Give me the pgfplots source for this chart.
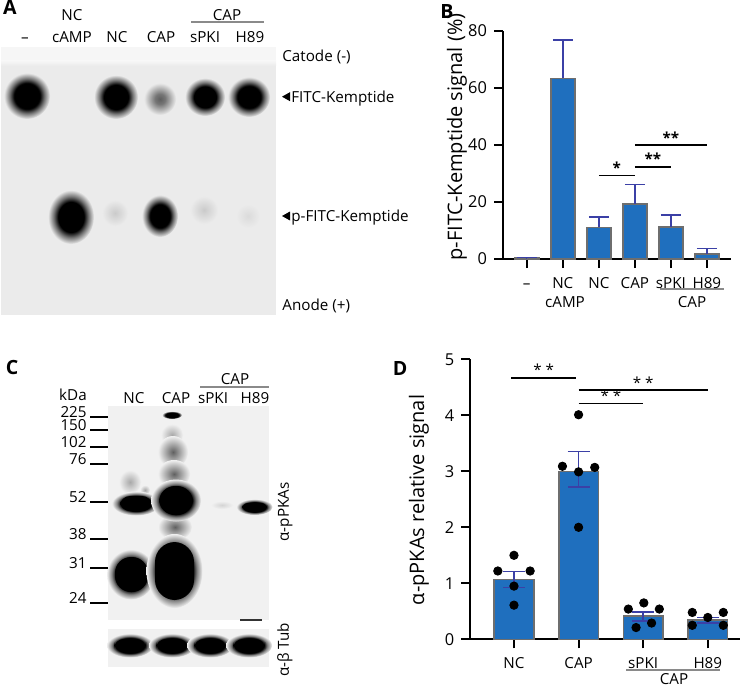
\documentclass[border=0pt]{standalone}
\usepackage{fontspec}
\setmainfont{Open Sans}
\setsansfont{Open Sans}
\usepackage{pgfplots}
\pgfplotsset{compat=1.18}
\definecolor{barblue}{HTML}{1F6FBE}
\definecolor{bargray}{HTML}{6E6E6E}
\definecolor{errblue}{HTML}{3B40A6}
\definecolor{gelA}{HTML}{EBEBEB}
\definecolor{blotbg}{HTML}{F1F1F1}
\definecolor{linegray}{HTML}{8A8A8A}
\pgfdeclareradialshading{blkA}{\pgfpoint{0bp}{0bp}}{color(0bp)=(black); color(14bp)=(black); color(19bp)=(black!50!gelA); color(25bp)=(gelA); color(50bp)=(gelA)}
\pgfdeclareradialshading{midA}{\pgfpoint{0bp}{0bp}}{color(0bp)=(black!60!gelA); color(8bp)=(black!50!gelA); color(25bp)=(gelA); color(50bp)=(gelA)}
\pgfdeclareradialshading{faintA}{\pgfpoint{0bp}{0bp}}{color(0bp)=(black!14!gelA); color(25bp)=(gelA); color(50bp)=(gelA)}
\pgfdeclareradialshading{vfaintA}{\pgfpoint{0bp}{0bp}}{color(0bp)=(black!7!gelA); color(25bp)=(gelA); color(50bp)=(gelA)}
\pgfdeclareradialshading{blkT}{\pgfpoint{0bp}{0bp}}{color(0bp)=(black); color(17bp)=(black); color(21bp)=(black!50!blotbg); color(25bp)=(blotbg); color(50bp)=(blotbg)}
\pgfdeclareradialshading{haloC}{\pgfpoint{0bp}{0bp}}{color(0bp)=(black); color(16bp)=(black); color(20bp)=(black!45!blotbg); color(25bp)=(blotbg); color(50bp)=(blotbg)}
\pgfdeclareradialshading{grayC}{\pgfpoint{0bp}{0bp}}{color(0bp)=(black!60!blotbg); color(25bp)=(blotbg); color(50bp)=(blotbg)}
\pgfdeclareradialshading{lgrayC}{\pgfpoint{0bp}{0bp}}{color(0bp)=(black!30!blotbg); color(25bp)=(blotbg); color(50bp)=(blotbg)}
\pgfdeclareradialshading{vfaintC}{\pgfpoint{0bp}{0bp}}{color(0bp)=(black!12!blotbg); color(25bp)=(blotbg); color(50bp)=(blotbg)}
\newcommand\labf{\fontsize{7.6}{9}\selectfont}
\newcommand\biglabf{\fontsize{10}{11}\selectfont}
\newcommand\panelf{\fontsize{9.8}{12}\selectfont\bfseries}
\tikzset{lab/.style={font=\labf,text height=1.5ex,text depth=0.4ex},biglab/.style={font=\biglabf},panel/.style={font=\panelf}}

\pgfplotstableread{
x y e
0 0.3 0.15
1 63.4 13.5
2 11.1 3.7
3 19.4 6.7
4 11.3 4.2
5 1.7 2.0
}\tabB

\pgfplotstableread{
x y ep em
0 1.07 0.14 0.15
1 3.00 0.35 0.28
2 0.42 0.07 0.09
3 0.34 0.05 0.05
}\tabD

\pgfplotstableread{
x y
0 1.50
-0.25 1.22
0.25 1.22
0 0.95
0 0.61
1 4.01
0.75 3.09
1.25 3.07
1 2.99
1 2.00
1.77 0.54
2.01 0.65
2.25 0.54
1.89 0.21
2.13 0.29
2.76 0.48
3.00 0.39
3.24 0.48
2.76 0.25
3.24 0.25
}\ptsD

\begin{document}
\begin{tikzpicture}
\begin{scope}[shift={(0pt,343.5pt)},x=0.5pt,y=-0.5pt]
\useasboundingbox (0,0) rectangle (754,687);
% ---------- Panel A gel ----------
\fill[gelA] (1,47) rectangle (276,315);
\fill[gelA!45!white] (1,47) rectangle (276,61);
\shade[top color=gelA!45!white,bottom color=gelA] (1,61) rectangle (276,66);
\shade[shading=blkA] (27,96) ellipse (23 and 23);
\shade[shading=blkA] (116,97) ellipse (22 and 22);
\shade[shading=midA] (160,99) ellipse (16 and 16);
\shade[shading=blkA] (205,97) ellipse (20 and 19);
\shade[shading=blkA] (249,97) ellipse (21 and 20);
\shade[shading=blkA] (71,217) ellipse (23 and 27);
\shade[shading=faintA] (115,213) ellipse (13 and 13);
\shade[shading=blkA] (160,216) ellipse (18 and 21);
\shade[shading=faintA] (204,210) ellipse (14 and 14);
\shade[shading=vfaintA] (248,216) ellipse (12 and 12);
\node[panel] at (10,7) {A};
\node[lab] at (72,15) {NC};
\node[lab] at (227,15) {CAP};
\draw[linegray,line width=0.6pt] (191,22) -- (264,22);
\foreach \x/\t in {25/--,72/cAMP,117/NC,161/CAP,205/sPKI,250/H89} \node[lab] at (\x,37) {\t};
\node[lab,anchor=west,inner sep=0pt] at (282,56) {Catode (-)};
\fill (282,96.7) -- (290,92.2) -- (290,101.2) -- cycle;
\node[lab,anchor=west,inner sep=0pt] at (291,96.7) {FITC-Kemptide};
\fill (282,216) -- (290,211.5) -- (290,220.5) -- cycle;
\node[lab,anchor=west,inner sep=0pt] at (291,216) {p-FITC-Kemptide};
\node[lab,anchor=west,inner sep=0pt] at (282,305) {Anode (+)};
% ---------- Panel C blot ----------
\fill[blotbg] (108,406) rectangle (269,620);
\fill[blotbg] (108,629) rectangle (269,667);
% NC lane
\shade[shading=lgrayC] (130,482) ellipse (11 and 12);
\shade[shading=lgrayC] (145,490) ellipse (5 and 5);
\shade[shading=haloC] (136,503.5) ellipse (24 and 12);
\fill[black,rounded corners=5] (120,496) rectangle (152,511);
\shade[shading=haloC] (131,574.5) ellipse (24 and 25);
\fill[black,rounded corners=8] (115,557) rectangle (148,592);
% CAP lane
\shade[shading=blkT] (172,415) ellipse (10 and 4);
\shade[shading=lgrayC] (172,435) ellipse (11 and 11);
\shade[shading=grayC] (173,452) ellipse (15 and 16);
\shade[shading=grayC] (174,474) ellipse (16 and 14);
\shade[shading=grayC] (175,527) ellipse (17 and 13);
\shade[shading=haloC] (176,500.5) ellipse (25 and 21);
\fill[black,rounded corners=8] (159,486) rectangle (193,515);
\shade[shading=haloC] (174.5,571) ellipse (28 and 37);
\fill[black,rounded corners=10] (155,542) rectangle (194,600);
% sPKI, H89
\shade[shading=vfaintC] (222,505) ellipse (11 and 4);
\shade[shading=haloC] (254.5,507) ellipse (18 and 8);
\fill[black,rounded corners=3] (242,503) rectangle (267,511);
\draw[black!80,line width=1pt] (240,620) -- (262,620);
\foreach \x in {130,172,210,249} {\shade[shading=haloC] (\x,645.5) ellipse (23 and 12);
  \fill[black,rounded corners=5] (\x-16,639) rectangle (\x+16,652);}
\node[panel] at (12,367) {C};
\node[lab] at (73,395) {kDa};
\foreach \y/\t in {417/225,430/150,447/102,464/76,502/52,539/38,568/31,603/24} {
  \node[lab,anchor=east,inner sep=0pt] at (87,\y-5) {\t};
  \draw[line width=1.1pt] (90,\y) -- (108,\y);
}
\foreach \x/\t in {134/NC,176/CAP,213/sPKI,255/H89} \node[lab] at (\x,398) {\t};
\node[lab] at (235,379) {CAP};
\draw[linegray,line width=0.6pt] (200,387) -- (269,387);
\node[lab,rotate=90] at (283,512) {α-pPKAs};
\node[lab,rotate=90] at (283,650) {α-β Tub};
% ---------- Panel B/D texts ----------
\node[panel] at (447,12) {B};
\node[biglab,rotate=90] at (457,137) {p-FITC-Kemptide signal (\%)};
\node[lab] at (565,302) {cAMP};
\node[lab] at (692,302) {CAP};
\draw[linegray,line width=0.6pt] (660,289) -- (724,289);
\node[panel] at (400,368) {D};
\node[biglab,rotate=90] at (419,500) {α-pPKAs relative signal};
\node[lab] at (674,679) {CAP};
\draw[linegray,line width=0.6pt] (626,670) -- (720,670);
\end{scope}

% ---------- Panel B axis ----------
\begin{axis}[
  at={(251.5pt,214pt)}, anchor=south west,
  scale only axis, width=114pt, height=114pt,
  xmin=-0.66, xmax=5.67, ymin=0, ymax=80,
  axis x line*=bottom, axis y line*=left,
  axis line style={line width=1pt,-},
  every tick/.style={black,line width=1pt},
  major tick length=4.5pt, tick align=outside,
  xtick={0,...,5}, xticklabels={--,NC,NC,CAP,sPKI,H89},
  ytick={0,20,40,60,80},
  /pgf/number format/assume math mode=true,
  y tick label style={font=\fontsize{8.2}{9}\selectfont},
  x tick label style={font=\labf,text height=1.5ex,text depth=0.4ex,yshift=1.5pt},
  clip=false,
]
\addplot[ybar, bar width=12pt, fill=barblue, draw=bargray, line width=0.8pt,
  error bars/.cd, y dir=plus, y explicit,
  error bar style={errblue,line width=0.7pt},
  error mark options={errblue,rotate=90,mark size=5pt,line width=0.7pt}]
  table[x=x,y=y,y error=e] {\tabB};
\draw[line width=0.9pt] (axis cs:2,29.3) -- (axis cs:3,29.3) node[midway,anchor=south,inner sep=0.5pt,font=\labf\bfseries]{*};
\draw[line width=0.9pt] (axis cs:3,32.4) -- (axis cs:4,32.4) node[midway,anchor=south,inner sep=0.5pt,font=\labf\bfseries]{**};
\draw[line width=0.9pt] (axis cs:3,40) -- (axis cs:5,40) node[midway,anchor=south,inner sep=0.5pt,font=\labf\bfseries]{**};
\end{axis}

% ---------- Panel D axis ----------
\begin{axis}[
  at={(235.15pt,23.85pt)}, anchor=south west,
  scale only axis, width=134.7pt, height=140pt,
  xmin=-0.676, xmax=3.494, ymin=0, ymax=5,
  axis x line*=bottom, axis y line*=left,
  axis line style={line width=1pt,-},
  every tick/.style={black,line width=1pt},
  major tick length=4.5pt, tick align=outside,
  xtick={0,...,3}, xticklabels={NC,CAP,sPKI,H89},
  ytick={0,...,5},
  /pgf/number format/assume math mode=true,
  y tick label style={font=\fontsize{8.2}{9}\selectfont},
  x tick label style={font=\labf,text height=1.5ex,text depth=0.4ex,yshift=1.5pt},
  clip=false,
]
\addplot[ybar, bar width=19.85pt, fill=barblue, draw=bargray, line width=0.8pt,
  error bars/.cd, y dir=both, y explicit,
  error bar style={errblue,line width=0.7pt},
  error mark options={errblue,rotate=90,mark size=5.5pt,line width=0.7pt}]
  table[x=x,y=y,y error plus=ep,y error minus=em] {\tabD};
\addplot[only marks, mark=*, mark size=2.1pt, black] table[x=x,y=y] {\ptsD};
\draw[line width=0.9pt] (axis cs:-0.04,4.67) -- (axis cs:0.96,4.67) node[midway,anchor=south,inner sep=0.5pt,font=\labf]{* *};
\draw[line width=0.9pt] (axis cs:1,4.45) -- (axis cs:3,4.45) node[midway,anchor=south,inner sep=0.5pt,font=\labf]{* *};
\draw[line width=0.9pt] (axis cs:1,4.21) -- (axis cs:2,4.21) node[midway,anchor=south,inner sep=0.5pt,font=\labf]{* *};
\end{axis}
\end{tikzpicture}
\end{document}
